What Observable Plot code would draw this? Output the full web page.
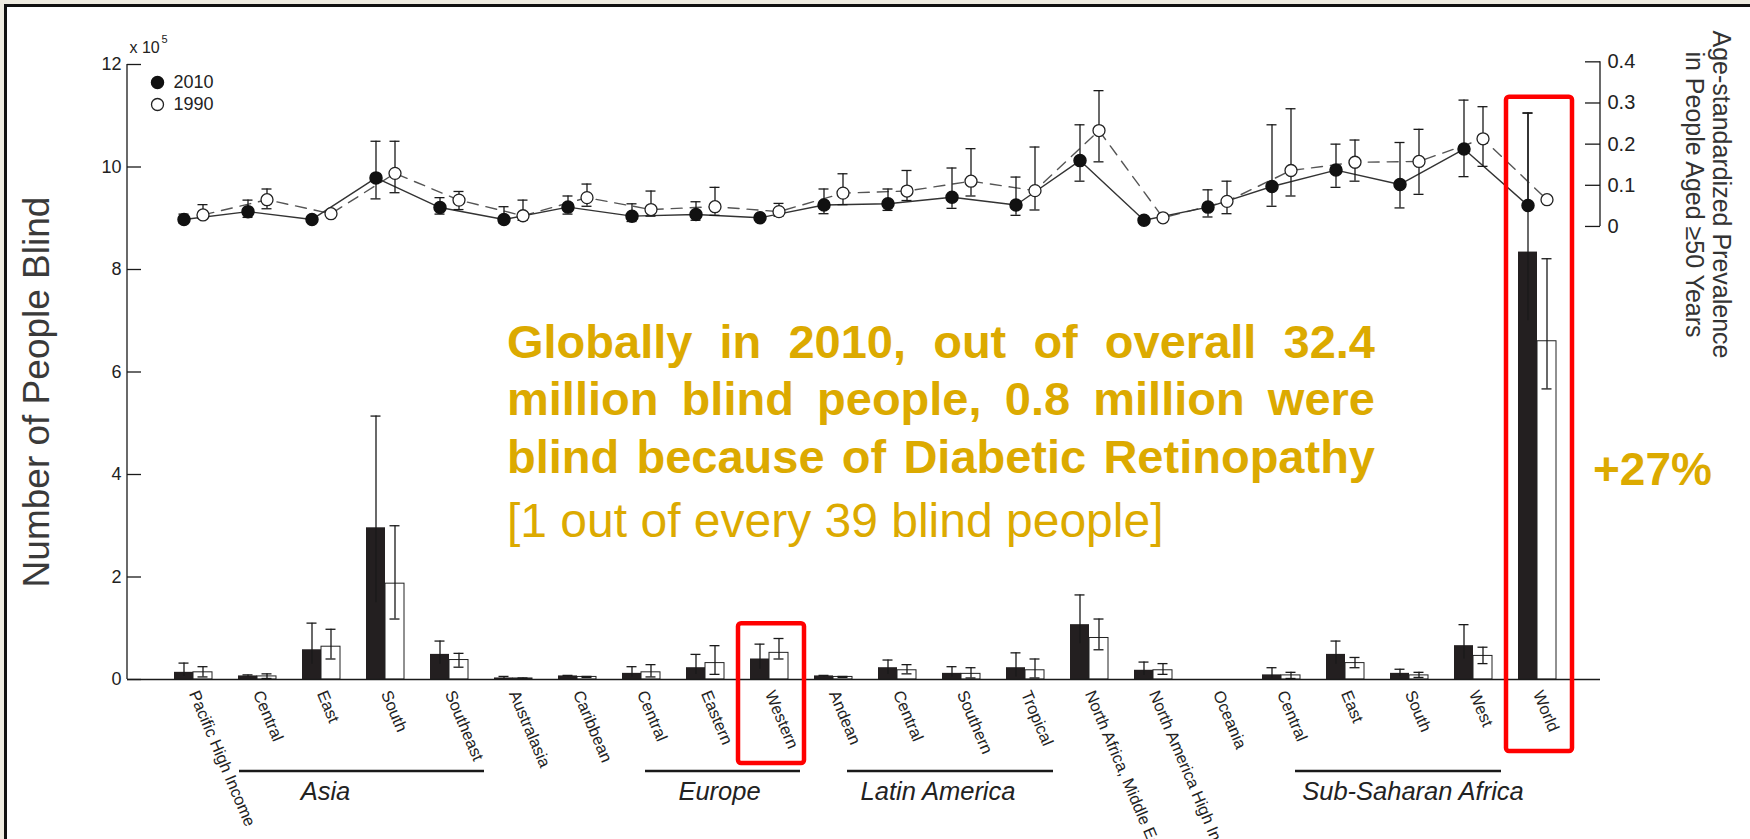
<!DOCTYPE html>
<html><head><meta charset="utf-8">
<script src="https://cdn.jsdelivr.net/npm/d3@7"></script>
<script src="https://cdn.jsdelivr.net/npm/@observablehq/plot@0.6"></script>
<style>
html,body{margin:0;padding:0;background:#eeebe0;}
#wrap{position:relative;width:1750px;height:839px;overflow:hidden;background:#eeebe0;}
#paper{position:absolute;left:4px;top:4px;width:1746px;height:835px;background:#fff;border-left:3px solid #111;border-top:3px solid #111;box-sizing:border-box;}
#chart{position:absolute;left:0;top:0;}
.note{position:absolute;color:#dcaa00;font-family:"Liberation Sans",Arial,sans-serif;line-height:1;white-space:normal;}
.b{font-weight:bold;}
.j{text-align:justify;text-align-last:justify;}
</style></head>
<body><div id="wrap"><div id="paper"></div><div id="chart"></div>
<div class="note b j" style="left:507px;top:318px;width:868px;font-size:47px;">Globally in 2010, out of overall 32.4</div>
<div class="note b j" style="left:507px;top:375px;width:868px;font-size:47px;">million blind people, 0.8 million were</div>
<div class="note b j" style="left:507px;top:433px;width:868px;font-size:47px;">blind because of Diabetic Retinopathy</div>
<div class="note" style="left:507px;top:497px;font-size:48px;">[1 out of every 39 blind people]</div>
<div class="note b" style="left:1593px;top:446px;font-size:46px;">+27%</div>
</div>
<script>
// ---------- data ----------
const regionLabels = ["Pacific High Income","Central","East","South","Southeast","Australasia","Caribbean","Central","Eastern","Western","Andean","Central","Southern","Tropical","North Africa, Middle East","North America High Income","Oceania","Central","East","South","West","World"];

const groupNames = ["Asia","Europe","Latin America","Sub-Saharan Africa"];
const groupFirst = [1, 7, 10, 17];
const groupLast  = [4, 9, 13, 20];

// Number of people blind (x 10^5)
const blind2010   = [0.14,0.07,0.58,2.96,0.49,0.03,0.07,0.12,0.23,0.40,0.07,0.23,0.12,0.23,1.07,0.18,0.00,0.09,0.49,0.12,0.66,8.34];
const blind2010Lo = [0.06,0.05,0.30,1.50,0.30,0.01,0.05,0.05,0.10,0.20,0.05,0.10,0.05,0.05,0.70,0.08,0.00,0.03,0.30,0.06,0.40,7.00];
const blind2010Hi = [0.32,0.09,1.10,5.14,0.75,0.06,0.08,0.25,0.49,0.69,0.08,0.38,0.25,0.52,1.65,0.34,0.00,0.23,0.75,0.20,1.07,11.05];
const blind1990   = [0.14,0.06,0.64,1.87,0.38,0.02,0.05,0.14,0.32,0.52,0.05,0.18,0.11,0.18,0.81,0.18,0.00,0.08,0.32,0.08,0.46,6.60];
const blind1990Lo = [0.05,0.02,0.40,1.18,0.24,0.01,0.04,0.05,0.10,0.40,0.04,0.11,0.03,0.03,0.58,0.10,0.00,0.02,0.23,0.04,0.31,5.67];
const blind1990Hi = [0.25,0.11,0.98,3.00,0.51,0.03,0.06,0.29,0.66,0.80,0.06,0.29,0.23,0.40,1.18,0.31,0.00,0.14,0.43,0.14,0.63,8.21];

// Age-standardized prevalence in people aged >=50 (%)
const prev2010   = [0.017,0.036,0.017,0.118,0.046,0.017,0.047,0.025,0.029,0.021,0.052,0.055,0.071,0.052,0.160,0.015,0.047,0.097,0.137,0.102,0.188,0.051];
const prev2010Lo = [0.008,0.022,0.012,0.067,0.030,0.008,0.030,0.012,0.015,0.016,0.031,0.039,0.044,0.027,0.110,0.012,0.023,0.049,0.095,0.045,0.121,0.051];
const prev2010Hi = [0.030,0.064,0.022,0.207,0.070,0.048,0.074,0.055,0.060,0.026,0.091,0.091,0.142,0.120,0.247,0.018,0.089,0.247,0.200,0.204,0.307,0.276];
const prev1990   = [0.028,0.065,0.031,0.129,0.064,0.026,0.070,0.041,0.048,0.036,0.081,0.086,0.110,0.087,0.233,0.021,0.061,0.136,0.156,0.158,0.213,0.065];
const prev1990Lo = [0.020,0.043,0.026,0.082,0.041,0.015,0.049,0.025,0.027,0.025,0.053,0.063,0.074,0.040,0.157,0.018,0.031,0.074,0.110,0.078,0.146,0.060];
const prev1990Hi = [0.053,0.091,0.036,0.207,0.085,0.064,0.103,0.086,0.095,0.056,0.128,0.136,0.189,0.193,0.330,0.024,0.110,0.286,0.210,0.236,0.291,0.070];

const leftTicks = [0,2,4,6,8,10,12];
const rightTicks = [0,0.1,0.2,0.3,0.4];
const rightTickLabels = ["0","0.1","0.2","0.3","0.4"];
const legendLabels = ["2010","1990"];

// ---------- layout ----------
const W = 1750, H = 839, mL = 127, mR = 150, mT = 64, mB = 160;
const frameW = W - mL - mR;
const xInsetL = 33.7, xInsetR = 31.3;
const bw = (frameW - xInsetL - xInsetR) / regionLabels.length;
const half = bw / 2, barW = 19, off = 9.5, cap = 5;
// right (prevalence) axis shares the plot: map prevalence onto left-axis units
const prevZero = 8.84, prevScale = 8.03;
const toLeft = p => prevZero + p * prevScale;

const rows = regionLabels.map((label, i) => ({
  i, label,
  b10: blind2010[i], b10lo: blind2010Lo[i], b10hi: blind2010Hi[i],
  b90: blind1990[i], b90lo: blind1990Lo[i], b90hi: blind1990Hi[i],
  p10: toLeft(prev2010[i]), p10lo: toLeft(prev2010Lo[i]), p10hi: toLeft(prev2010Hi[i]),
  p90: toLeft(prev1990[i]), p90lo: toLeft(prev1990Lo[i]), p90hi: toLeft(prev1990Hi[i])
}));
const barRows = rows.filter(d => d.b10 > 0 || d.b90 > 0);

const ink = "#1a1a1a";
const font = '"Liberation Sans", Arial, Helvetica, sans-serif';

const plot = Plot.plot({
  width: W, height: H,
  marginLeft: mL, marginRight: mR, marginTop: mT, marginBottom: mB,
  style: {fontFamily: font, background: "transparent", color: "#222", overflow: "visible"},
  x: {type: "band", domain: d3.range(regionLabels.length), padding: 0, insetLeft: xInsetL, insetRight: xInsetR, label: null},
  y: {domain: [0, 12], label: null},
  marks: [
    // bars
    Plot.barY(rows, {x: "i", y: "b10", fill: "#231f20", insetLeft: half - barW, insetRight: half}),
    Plot.barY(rows, {x: "i", y: "b90", fill: "#fff", stroke: "#222", strokeWidth: 1, insetLeft: half, insetRight: half - barW}),
    // bar error bars
    Plot.ruleX(barRows, {x: "i", y1: "b10lo", y2: "b10hi", dx: -off, stroke: ink, strokeWidth: 1.3}),
    Plot.tickY(barRows, {x: "i", y: "b10hi", stroke: ink, strokeWidth: 1.3, insetLeft: half - off - cap, insetRight: half + off - cap}),
    Plot.ruleX(barRows, {x: "i", y1: "b90lo", y2: "b90hi", dx: off, stroke: ink, strokeWidth: 1.3}),
    Plot.tickY(barRows, {x: "i", y: "b90hi", stroke: ink, strokeWidth: 1.3, insetLeft: half + off - cap, insetRight: half - off - cap}),
    Plot.tickY(barRows, {x: "i", y: "b90lo", stroke: ink, strokeWidth: 1.3, insetLeft: half + off - cap, insetRight: half - off - cap}),
    // baseline
    Plot.ruleY([0], {stroke: ink, strokeWidth: 1.5}),
    // prevalence lines
    Plot.line(rows, {x: "i", y: "p90", dx: off, stroke: "#555", strokeWidth: 1.4, strokeDasharray: "11,8"}),
    Plot.line(rows, {x: "i", y: "p10", dx: -off, stroke: "#333", strokeWidth: 1.4}),
    // prevalence error bars
    Plot.ruleX(rows, {x: "i", y1: "p10lo", y2: "p10hi", dx: -off, stroke: ink, strokeWidth: 1.3}),
    Plot.tickY(rows, {x: "i", y: "p10hi", stroke: ink, strokeWidth: 1.3, insetLeft: half - off - cap, insetRight: half + off - cap}),
    Plot.tickY(rows, {x: "i", y: "p10lo", stroke: ink, strokeWidth: 1.3, insetLeft: half - off - cap, insetRight: half + off - cap}),
    Plot.ruleX(rows, {x: "i", y1: "p90lo", y2: "p90hi", dx: off, stroke: ink, strokeWidth: 1.3}),
    Plot.tickY(rows, {x: "i", y: "p90hi", stroke: ink, strokeWidth: 1.3, insetLeft: half + off - cap, insetRight: half - off - cap}),
    Plot.tickY(rows, {x: "i", y: "p90lo", stroke: ink, strokeWidth: 1.3, insetLeft: half + off - cap, insetRight: half - off - cap}),
    // prevalence dots
    Plot.dot(rows, {x: "i", y: "p10", dx: -off, r: 6, fill: "#111", stroke: "#111"}),
    Plot.dot(rows, {x: "i", y: "p90", dx: off, r: 6, fill: "#fff", stroke: "#222", strokeWidth: 1.3}),
    // left axis
    Plot.ruleY(leftTicks, {insetRight: frameW - 14, stroke: ink, strokeWidth: 1.3}),
    Plot.axisY(leftTicks, {anchor: "left", tickSize: 0, tickPadding: 6, fontSize: 18, label: null, tickFormat: d => String(d)}),
    Plot.text(["x 10"], {frameAnchor: "top-left", dx: 2, dy: -17, textAnchor: "start", lineAnchor: "middle", fontSize: 16}),
    Plot.text(["5"], {frameAnchor: "top-left", dx: 34, dy: -25, textAnchor: "start", lineAnchor: "middle", fontSize: 11}),
    Plot.text(["Number of People Blind"], {frameAnchor: "left", dx: -90, dy: 20, rotate: -90, textAnchor: "middle", lineAnchor: "middle", fontSize: 37, fill: "#3a3a3a"}),
    // right axis
    Plot.ruleY(rightTicks.map(toLeft), {insetLeft: frameW - 15, stroke: ink, strokeWidth: 1.3}),
    Plot.axisY(rightTicks.map(toLeft), {anchor: "right", tickSize: 0, tickPadding: 7, fontSize: 20, label: null,
      tickFormat: d => rightTickLabels[Math.round((d - prevZero) / prevScale * 10)]}),
    Plot.text(["Age-standardized Prevalence\nin People Aged \u226550 Years"], {frameAnchor: "top-right", dx: 108, dy: 130, rotate: 90, textAnchor: "middle", lineAnchor: "middle", fontSize: 25, lineHeight: 1.08, fill: "#333"}),
    // bottom axis
    Plot.axisX({anchor: "bottom", tickSize: 0, tickPadding: 12, tickRotate: 67, textAnchor: "start", lineAnchor: "middle", fontSize: 16.5, label: null,
      tickFormat: i => regionLabels[i]}),
    // legend
    Plot.dot([legendLabels[0]], {frameAnchor: "top-left", dx: 30, dy: 18, r: 6, fill: "#111", stroke: "#111"}),
    Plot.dot([legendLabels[1]], {frameAnchor: "top-left", dx: 30, dy: 40, r: 6, fill: "#fff", stroke: "#222", strokeWidth: 1.3}),
    Plot.text([legendLabels[0]], {frameAnchor: "top-left", dx: 46, dy: 18, textAnchor: "start", lineAnchor: "middle", fontSize: 18}),
    Plot.text([legendLabels[1]], {frameAnchor: "top-left", dx: 46, dy: 40, textAnchor: "start", lineAnchor: "middle", fontSize: 18})
  ]
});

document.getElementById("chart").appendChild(plot);

// ---------- decorations drawn with the plot's own scales ----------
const xs = plot.scale("x"), ys = plot.scale("y");
const svg = d3.select(plot);
const bandStart = i => xs.apply(i);
const center = i => xs.apply(i) + xs.bandwidth / 2;
const y0 = ys.apply(0);

// axis lines
svg.append("line").attr("x1", mL).attr("x2", mL).attr("y1", ys.apply(12)).attr("y2", y0)
  .attr("stroke", ink).attr("stroke-width", 1.3);
svg.append("line").attr("x1", W - mR).attr("x2", W - mR).attr("y1", ys.apply(toLeft(0.4))).attr("y2", ys.apply(toLeft(0)))
  .attr("stroke", ink).attr("stroke-width", 1.3);

// super-region brackets
const gLayout = {
  "Asia": {s: -18, e: 35, l: -36},
  "Europe": {s: 4, e: 31, l: -3},
  "Latin America": {s: 14, e: 28, l: -12},
  "Sub-Saharan Africa": {s: 14, e: 28, l: 15}
};
groupNames.forEach((name, k) => {
  const L = gLayout[name];
  const a = center(groupFirst[k]) + L.s, b = center(groupLast[k]) + L.e;
  svg.append("line").attr("x1", a).attr("x2", b).attr("y1", y0 + 92).attr("y2", y0 + 92)
    .attr("stroke", ink).attr("stroke-width", 2.6);
  svg.append("text").attr("x", (a + b) / 2 + L.l).attr("y", y0 + 121)
    .attr("text-anchor", "middle").attr("font-style", "italic").attr("font-size", 25.5)
    .attr("fill", "#222").attr("font-family", font).text(name);
});

// red highlight boxes
function redBox(i, topValue, bottomOffset) {
  const left = bandStart(i) + 1;
  const top = ys.apply(topValue);
  svg.append("rect").attr("x", left).attr("y", top)
    .attr("width", xs.bandwidth + 2).attr("height", y0 + bottomOffset - top)
    .attr("rx", 3).attr("fill", "none").attr("stroke", "#ff0000").attr("stroke-width", 4.5);
}
redBox(regionLabels.indexOf("Western"), 1.09, 84);
redBox(regionLabels.indexOf("World"), 11.36, 72);
</script>
</body></html>
